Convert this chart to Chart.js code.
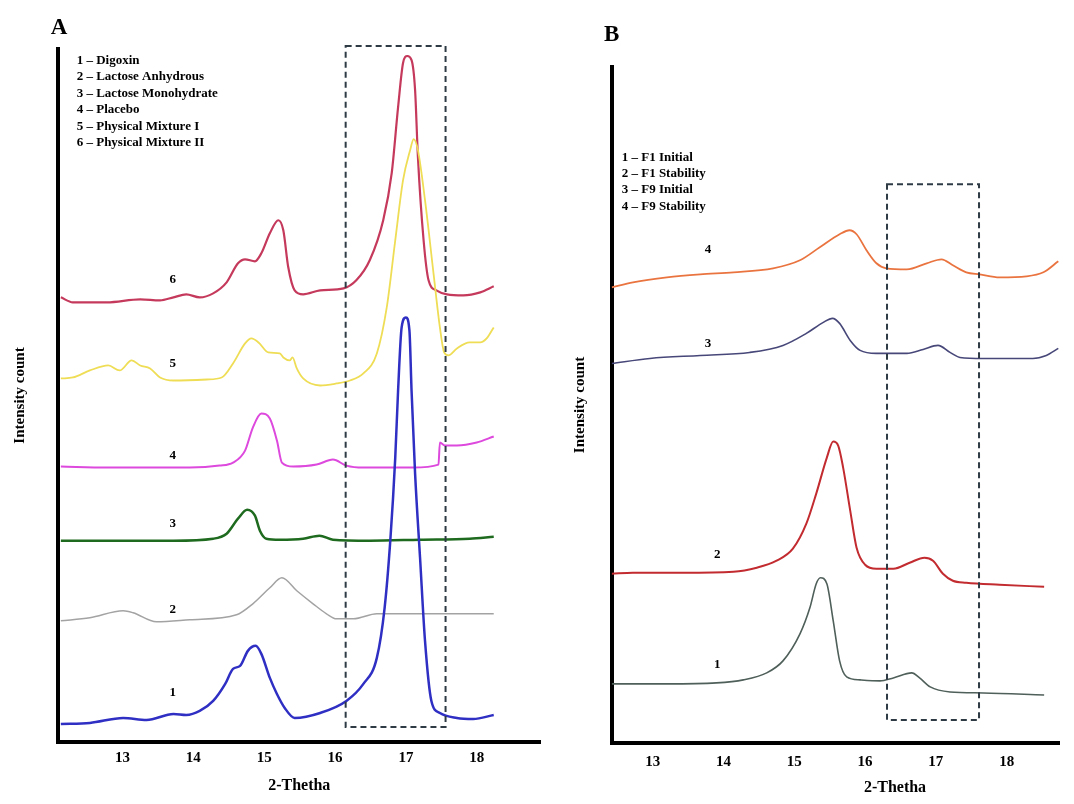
<!DOCTYPE html>
<html>
<head>
<meta charset="utf-8">
<title>XRD patterns A and B</title>
<script src="https://cdn.jsdelivr.net/npm/chart.js@4.4.1/dist/chart.umd.min.js"></script>
<style>
  html, body { margin: 0; padding: 0; background: #fff; }
  body { width: 1074px; height: 804px; position: relative; overflow: hidden; }
  .panel { position: absolute; top: 0; height: 804px; }
  #wrapA { left: 0; width: 548px; }
  #wrapB { left: 548px; width: 526px; }
</style>
</head>
<body>
<div id="wrapA" class="panel"><canvas id="chartA"></canvas></div>
<div id="wrapB" class="panel"><canvas id="chartB"></canvas></div>
<script>
// tick labels on the 2-theta axis (both panels)
const thetaTicks = [13, 14, 15, 16, 17, 18];

// ---- panel A ----
const legendA = [
  '1 \u2013 Digoxin',
  '2 \u2013 Lactose Anhydrous',
  '3 \u2013 Lactose Monohydrate',
  '4 \u2013 Placebo',
  '5 \u2013 Physical Mixture I',
  '6 \u2013 Physical Mixture II'
];

// 1 - Digoxin
const a1Theta = [12.13, 12.54, 13.01, 13.34, 13.72, 13.90, 14.09, 14.28, 14.45, 14.56, 14.66, 14.77, 14.88, 14.96, 15.08, 15.18, 15.29, 15.43, 15.79, 16.16, 16.40, 16.59, 16.70, 16.78, 16.85, 16.89, 16.94, 17.00, 17.05, 17.08, 17.13, 17.20, 17.27, 17.36, 17.48, 17.72, 17.95, 18.24];
const a1Counts = [18, 19, 24, 22, 28, 27, 31, 41, 58, 73, 76, 91, 96, 88, 64, 48, 34, 24, 29, 41, 58, 84, 134, 201, 284, 351, 414, 424, 411, 351, 268, 184, 101, 41, 29, 24, 23, 27];

// 2 - Lactose Anhydrous
const a2Theta = [12.13, 12.54, 13.01, 13.15, 13.48, 13.95, 14.61, 14.84, 15.08, 15.25, 15.46, 15.69, 15.88, 16.02, 16.26, 16.59, 17.20, 17.62, 18.24];
const a2Counts = [121, 124, 131, 129, 120, 122, 127, 138, 154, 164, 151, 138, 128, 123, 123, 128, 128, 128, 128];

// 3 - Lactose Monohydrate
const a3Theta = [12.13, 13.72, 14.28, 14.47, 14.63, 14.76, 14.87, 14.94, 15.03, 15.22, 15.55, 15.78, 15.97, 16.49, 17.20, 17.90, 18.24];
const a3Counts = [201, 201, 203, 208, 223, 232, 226, 211, 203, 202, 203, 206, 202, 201, 202, 203, 205];

// 4 - Placebo
const a4Theta = [12.13, 12.78, 13.95, 14.37, 14.56, 14.73, 14.84, 14.96, 15.08, 15.18, 15.25, 15.41, 15.74, 15.97, 16.16, 16.40, 17.10, 17.46, 17.48, 17.55, 17.72, 18.00, 18.24];
const a4Counts = [275, 274, 274, 276, 279, 291, 314, 328, 323, 301, 279, 275, 277, 282, 276, 274, 274, 277, 299, 296, 296, 299, 305];

// 5 - Physical Mixture I
const a5Theta = [12.13, 12.30, 12.54, 12.80, 12.96, 13.13, 13.25, 13.39, 13.53, 13.72, 14.19, 14.40, 14.56, 14.73, 14.82, 14.92, 15.06, 15.22, 15.27, 15.36, 15.40, 15.46, 15.55, 15.79, 16.02, 16.21, 16.40, 16.59, 16.73, 16.85, 16.96, 17.06, 17.11, 17.17, 17.27, 17.39, 17.48, 17.54, 17.60, 17.72, 17.90, 18.05, 18.14, 18.24];
const a5Counts = [363, 364, 371, 376, 371, 381, 376, 373, 364, 361, 362, 364, 378, 398, 403, 399, 389, 388, 384, 381, 384, 373, 363, 356, 358, 361, 368, 388, 434, 501, 561, 591, 602, 591, 541, 468, 414, 389, 386, 393, 399, 399, 403, 414];

// 6 - Physical Mixture II
const a6Theta = [12.13, 12.30, 12.78, 13.25, 13.53, 13.72, 13.90, 14.09, 14.28, 14.47, 14.63, 14.73, 14.87, 14.96, 15.08, 15.20, 15.27, 15.34, 15.43, 15.55, 15.79, 16.12, 16.30, 16.49, 16.68, 16.80, 16.89, 16.96, 17.02, 17.08, 17.13, 17.17, 17.25, 17.32, 17.43, 17.58, 17.81, 18.05, 18.24];
const a6Counts = [444, 439, 439, 442, 441, 444, 447, 444, 448, 459, 478, 482, 480, 488, 508, 521, 511, 474, 451, 447, 451, 453, 461, 481, 521, 568, 634, 678, 685, 681, 651, 584, 501, 461, 451, 447, 446, 449, 455];

// ---- panel B ----
const legendB = [
  '1 \u2013 F1 Initial',
  '2 \u2013 F1 Stability',
  '3 \u2013 F9 Initial',
  '4 \u2013 F9 Stability'
];

// 1 - F1 Initial
const b1Theta = [12.42, 13.20, 13.90, 14.28, 14.61, 14.84, 15.08, 15.22, 15.31, 15.37, 15.46, 15.55, 15.64, 15.74, 15.93, 16.21, 16.40, 16.66, 16.77, 16.92, 17.20, 17.67, 18.53];
const b1Counts = [59, 59, 60, 63, 70, 82, 109, 135, 159, 165, 159, 122, 82, 66, 63, 62, 65, 70, 65, 56, 51, 50, 48];

// 2 - F1 Stability
const b2Theta = [12.42, 12.72, 13.43, 14.14, 14.47, 14.75, 14.98, 15.17, 15.31, 15.46, 15.55, 15.62, 15.69, 15.79, 15.88, 16.00, 16.16, 16.40, 16.63, 16.84, 16.96, 17.10, 17.24, 17.43, 17.90, 18.53];
const b2Counts = [169, 170, 170, 171, 175, 182, 194, 219, 249, 285, 301, 297, 275, 232, 195, 178, 174, 174, 180, 185, 182, 169, 162, 160, 158, 156];

// 3 - F9 Initial
const b3Theta = [12.42, 12.96, 13.67, 14.37, 14.84, 15.17, 15.41, 15.54, 15.64, 15.79, 15.93, 16.16, 16.59, 16.82, 17.03, 17.20, 17.34, 17.67, 18.37, 18.56, 18.73];
const b3Counts = [379, 384, 387, 390, 397, 409, 420, 424, 419, 402, 392, 389, 389, 393, 397, 390, 385, 384, 384, 387, 394];

// 4 - F9 Stability
const b4Theta = [12.42, 12.72, 13.20, 13.67, 14.14, 14.70, 15.08, 15.36, 15.64, 15.78, 15.88, 16.02, 16.16, 16.30, 16.59, 16.87, 17.08, 17.24, 17.43, 17.62, 17.90, 18.28, 18.52, 18.73];
const b4Counts = [455, 460, 465, 468, 470, 474, 482, 495, 508, 512, 508, 492, 479, 474, 473, 479, 483, 477, 470, 468, 465, 466, 470, 481];

const serif = '"Liberation Serif", "Times New Roman", serif';

function pairs(xs, ys) {
  return xs.map((t, i) => ({ x: t, y: ys[i] }));
}

function line(xs, ys, color, width) {
  return {
    data: pairs(xs, ys),
    borderColor: color,
    borderWidth: width,
    pointRadius: 0,
    fill: false,
    cubicInterpolationMode: 'monotone'
  };
}

// dashed box, panel letter, text legend, curve numbers
const annotate = {
  id: 'annotate',
  afterDraw(chart, args, opts) {
    const { ctx, chartArea: area, scales: { x, y } } = chart;
    ctx.save();

    ctx.strokeStyle = '#2E3B45';
    ctx.lineWidth = 2;
    ctx.setLineDash([6, 4]);
    const x1 = x.getPixelForValue(opts.box[0]);
    const x2 = x.getPixelForValue(opts.box[1]);
    const y1 = y.getPixelForValue(opts.box[3]);
    const y2 = y.getPixelForValue(opts.box[2]);
    ctx.strokeRect(x1, y1, x2 - x1, y2 - y1);
    ctx.setLineDash([]);

    ctx.fillStyle = '#000';
    ctx.textBaseline = 'middle';
    ctx.textAlign = 'center';
    ctx.font = 'bold 23px ' + serif;
    ctx.fillText(opts.letter, area.left + opts.letterAt[0], area.top + opts.letterAt[1]);

    ctx.font = 'bold 13px ' + serif;
    ctx.textAlign = 'left';
    opts.legend.forEach((txt, i) => {
      ctx.fillText(txt, area.left + opts.legendAt[0], area.top + opts.legendAt[1] + i * 16.4);
    });

    ctx.textAlign = 'center';
    opts.numbers.forEach((p, i) => {
      ctx.fillText(String(i + 1), x.getPixelForValue(p[0]), y.getPixelForValue(p[1]));
    });

    if (opts.xTitle) {
      ctx.font = 'bold 16px ' + serif;
      ctx.fillText(opts.xTitle, area.left + opts.xTitleAt[0], area.bottom + opts.xTitleAt[1]);
    }
    ctx.restore();
  }
};

function axisX(min, max, pad, title) {
  return {
    type: 'linear',
    min: min,
    max: max,
    afterBuildTicks: s => { s.ticks = thetaTicks.map(v => ({ value: v })); },
    ticks: { padding: pad, color: '#000', font: { family: serif, size: 15, weight: 'bold' } },
    grid: { display: false, drawTicks: false },
    border: { color: '#000', width: 4 },
    title: title
  };
}

function axisY(max, padTop, padBottom) {
  return {
    min: 0,
    max: max,
    ticks: { display: false },
    grid: { display: false, drawTicks: false },
    border: { color: '#000', width: 4 },
    title: {
      display: true,
      text: 'Intensity count',
      color: '#000',
      font: { family: serif, size: 15, weight: 'bold' },
      padding: { top: padTop, bottom: padBottom }
    }
  };
}

new Chart(document.getElementById('chartA'), {
  type: 'line',
  data: {
    datasets: [
      line(a1Theta, a1Counts, '#2F2FC4', 2.5),
      line(a2Theta, a2Counts, '#A3A3A3', 1.5),
      line(a3Theta, a3Counts, '#1E6A1E', 2.5),
      line(a4Theta, a4Counts, '#DD48DD', 2),
      line(a5Theta, a5Counts, '#EEDD55', 1.8),
      line(a6Theta, a6Counts, '#C53A5C', 2.2)
    ]
  },
  options: {
    responsive: true,
    maintainAspectRatio: false,
    animation: false,
    events: [],
    layout: { padding: { left: 0, right: 7.5, top: 49, bottom: 8.4 } },
    scales: {
      x: axisX(12.09, 18.9, 7, {
        display: true,
        text: '2-Thetha',
        color: '#000',
        font: { family: serif, size: 16, weight: 'bold' },
        padding: { top: 2.4, bottom: 0 }
      }),
      y: axisY(692, 11, 29)
    },
    plugins: {
      legend: { display: false },
      tooltip: { enabled: false },
      annotate: {
        letter: 'A',
        letterAt: [1, -21.4],
        legend: legendA,
        legendAt: [18.7, 11.7],
        box: [16.15, 17.56, 15, 695],
        numbers: [[13.71, 49], [13.71, 132], [13.71, 218], [13.71, 286], [13.71, 378], [13.71, 462]]
      }
    }
  },
  plugins: [annotate]
});

new Chart(document.getElementById('chartB'), {
  type: 'line',
  data: {
    datasets: [
      line(b1Theta, b1Counts, '#4F5F5A', 1.6),
      line(b2Theta, b2Counts, '#C22B2F', 2),
      line(b3Theta, b3Counts, '#474779', 1.6),
      line(b4Theta, b4Counts, '#EA7440', 1.8)
    ]
  },
  options: {
    responsive: true,
    maintainAspectRatio: false,
    animation: false,
    events: [],
    layout: { padding: { left: 0, right: 15, top: 67, bottom: 23 } },
    scales: {
      x: axisX(12.42, 18.74, 10, { display: false }),
      y: axisY(675, 23, 22.7)
    },
    plugins: {
      legend: { display: false },
      tooltip: { enabled: false },
      annotate: {
        letter: 'B',
        letterAt: [0, -32],
        legend: legendB,
        legendAt: [10, 90.3],
        box: [16.31, 17.61, 23, 558],
        numbers: [[13.91, 78], [13.91, 188], [13.78, 399], [13.78, 493]],
        xTitle: '2-Thetha',
        xTitleAt: [283.3, 45]
      }
    }
  },
  plugins: [annotate]
});
</script>
</body>
</html>
